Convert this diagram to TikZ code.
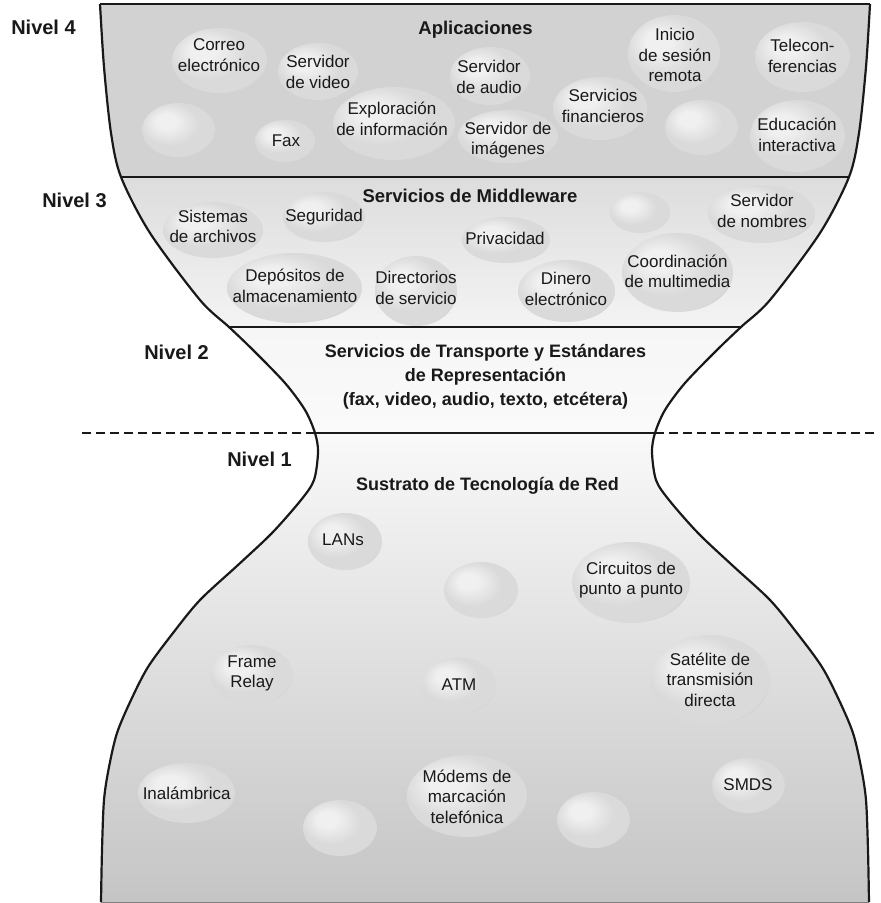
\documentclass[tikz,border=0pt]{standalone}
\usepackage{fontspec}
\setmainfont{Liberation Sans}
\usetikzlibrary{shapes.geometric}
\definecolor{bubhi}{gray}{0.94}
\definecolor{bubmid}{gray}{0.855}
\definecolor{bubdark}{gray}{0.72}
\definecolor{lvfour}{gray}{0.825}
\definecolor{lvthreetop}{gray}{0.865}
\definecolor{lvthreebot}{gray}{0.955}
\definecolor{lvtwotop}{gray}{0.965}
\definecolor{lvtwobot}{gray}{0.98}
\definecolor{lvonetop}{gray}{0.975}
\definecolor{lvonebot}{gray}{0.77}
\definecolor{edgecol}{gray}{0.1}
\pgfdeclareradialshading{bubbleshade}{\pgfpoint{-10bp}{9bp}}{color(0bp)=(bubhi); color(7bp)=(bubhi); color(20bp)=(bubmid); color(29bp)=(bubmid); color(34bp)=(bubdark); color(50bp)=(bubdark)}
\newcommand\hgbubble[5]{\node[bubble, minimum width=#4pt, minimum height=#5pt] (#1) at (#2,#3) {};}
\begin{document}
\begin{tikzpicture}[x=1pt,y=-1pt,
  bubble/.style={ellipse, shade, shading=bubbleshade, inner sep=0pt, outer sep=0pt, draw=none},
  btxt/.style={font=\fontsize{17}{20.5}\selectfont, align=center, inner sep=0pt, text=black!90},
  head/.style={font=\fontsize{18.5}{24}\selectfont\bfseries, inner sep=0pt, anchor=base, text=black!90},
  nivel/.style={font=\fontsize{20}{24}\selectfont\bfseries, inner sep=0pt, anchor=base, text=black!90},
  sepline/.style={line width=2.4pt, draw=edgecol},
  edgeline/.style={line width=2.2pt, draw=edgecol, line join=round},
  dashline/.style={line width=2pt, draw=edgecol, dash pattern=on 9pt off 5pt}]
\useasboundingbox (0,0) rectangle (881,903);
% fills
\begin{scope}
\clip plot[smooth,tension=0.5] coordinates {(870,4) (866,67) (859,133) (849,177) (820,233) (770,300) (741,327) (717,350) (685,383) (665,410) (655,433) (652,452) (656,480) (669,500) (698,533) (732,565) (770,600) (797,633) (822,667) (839,700) (853,733) (861,767) (866,800) (868,850) (869,902)}
  -- plot[smooth,tension=0.5] coordinates {(101,902) (102,850) (104,800) (109,767) (117,733) (131,700) (148,667) (173,633) (200,600) (238,565) (272,533) (301,500) (314,480) (318,452) (315,433) (305,410) (285,383) (253,350) (229,327) (200,300) (150,233) (121,177) (111,133) (104,67) (100,4)} -- cycle;
\fill[lvfour] (0,0) rectangle (881,177);
\shade[top color=lvthreetop, bottom color=lvthreebot] (0,177) rectangle (881,327);
\shade[top color=lvtwotop, bottom color=lvtwobot] (0,327) rectangle (881,433);
\shade[top color=lvonetop, bottom color=lvonebot] (0,433) rectangle (881,903);
\end{scope}
% bubbles level 4
\hgbubble{bcorreo}{219.5}{60.5}{95}{65}
\hgbubble{bsvideo}{318}{71.5}{80}{57}
\hgbubble{bsaudio}{490}{76}{80}{58}
\hgbubble{binicio}{674}{53.5}{92}{77}
\hgbubble{btelecon}{802.5}{57}{95}{70}
\hgbubble{bvacioa}{178.5}{130}{73}{54}
\hgbubble{bfax}{285}{141}{60}{42}
\hgbubble{bexplor}{394}{123.5}{122}{73}
\hgbubble{bimag}{508}{136.5}{100}{53}
\hgbubble{bfinanc}{600}{108.5}{94}{63}
\hgbubble{bvaciob}{701.5}{127.5}{73}{55}
\hgbubble{beduc}{797.5}{136}{95}{72}
% bubbles level 3
\hgbubble{bsistemas}{213}{230}{100}{56}
\hgbubble{bseguridad}{324}{217}{82}{50}
\hgbubble{bvacioc}{640}{212.5}{60}{41}
\hgbubble{bsnombres}{761.5}{214}{107}{58}
\hgbubble{bprivacidad}{506}{240}{88}{46}
\hgbubble{bdepositos}{294.5}{288}{135}{70}
\hgbubble{bdirectorios}{416}{291}{82}{70}
\hgbubble{bdinero}{566.5}{291}{97}{62}
\hgbubble{bcoord}{677.5}{272.5}{111}{79}
% bubbles level 1
\hgbubble{blans}{345}{541.5}{74}{57}
\hgbubble{bvaciod}{481}{590}{74}{56}
\hgbubble{bcircuitos}{631}{582.5}{118}{81}
\hgbubble{bframe}{251.5}{675}{83}{60}
\hgbubble{batm}{459}{685.5}{74}{56}
\hgbubble{bsatelite}{710}{680}{120}{90}
\hgbubble{binalam}{186.5}{793}{97}{60}
\hgbubble{bvacioe}{340}{828}{74}{56}
\hgbubble{bmodems}{467}{796}{120}{82}
\hgbubble{bvaciof}{593.5}{820}{73}{56}
\hgbubble{bsmds}{748.5}{785.5}{73}{55}
% separators
\draw[sepline] (100,4) -- (870,4);
\draw[sepline] (121,177) -- (849,177);
\draw[sepline] (229,327) -- (741,327);
\draw[sepline] (315,433) -- (655,433);
\draw[line width=1pt, draw=gray] (101,902) -- (869,902);
\draw[dashline] (82,433) -- (315,433);
\draw[dashline] (655,433) -- (877,433);
% edges
\draw[edgeline] plot[smooth,tension=0.5] coordinates {(870,4) (866,67) (859,133) (849,177) (820,233) (770,300) (741,327) (717,350) (685,383) (665,410) (655,433) (652,452) (656,480) (669,500) (698,533) (732,565) (770,600) (797,633) (822,667) (839,700) (853,733) (861,767) (866,800) (868,850) (869,902)};
\draw[edgeline] plot[smooth,tension=0.5] coordinates {(101,902) (102,850) (104,800) (109,767) (117,733) (131,700) (148,667) (173,633) (200,600) (238,565) (272,533) (301,500) (314,480) (318,452) (315,433) (305,410) (285,383) (253,350) (229,327) (200,300) (150,233) (121,177) (111,133) (104,67) (100,4)};
% level labels
\node[nivel] (nivelcuatro) at (43.5,34) {Nivel 4};
\node[nivel] (niveltres) at (74.5,207) {Nivel 3};
\node[nivel] (niveldos) at (176.5,359) {Nivel 2};
\node[nivel] (niveluno) at (259.5,466) {Nivel 1};
% headings
\node[head] (aplic) at (475.5,34) {Aplicaciones};
\node[head] (middle) at (470,202) {Servicios de Middleware};
\node[font=\fontsize{18}{24}\selectfont\bfseries, align=center, inner sep=0pt, text=black!90] (transp) at (485.5,377) {Servicios de Transporte y Estándares\\de Representación\\(fax, video, audio, texto, etcétera)};
\node[head, font=\fontsize{18}{24}\selectfont\bfseries] (sustrato) at (487.5,490) {Sustrato de Tecnología de Red};
% bubble texts level 4
\node[btxt] (tcorreo) at (219,55) {Correo\\electrónico};
\node[btxt] (tsvideo) at (318,72) {Servidor\\de video};
\node[btxt] (tsaudio) at (489,77) {Servidor\\de audio};
\node[btxt] (tinicio) at (675,55) {Inicio\\de sesión\\remota};
\node[btxt] (ttelecon) at (802.5,56) {Telecon-\\ferencias};
\node[btxt] (tfax) at (286,141) {Fax};
\node[btxt] (texplor) at (392,119) {Exploración\\de información};
\node[btxt] (timag) at (508,140) {Servidor de\\imágenes};
\node[btxt] (tfinanc) at (603,106) {Servicios\\financieros};
\node[btxt] (teduc) at (797,135) {Educación\\interactiva};
% level 3
\node[btxt] (tsistemas) at (213,226.5) {Sistemas\\de archivos};
\node[btxt] (tseguridad) at (324,217) {Seguridad};
\node[btxt] (tsnombres) at (762,211) {Servidor\\de nombres};
\node[btxt] (tprivacidad) at (505,238.5) {Privacidad};
\node[btxt] (tdepositos) at (295,286) {Depósitos de\\almacenamiento};
\node[btxt] (tdirectorios) at (416,288) {Directorios\\de servicio};
\node[btxt] (tdinero) at (566,289) {Dinero\\electrónico};
\node[btxt] (tcoord) at (677.5,271.5) {Coordinación\\de multimedia};
% level 1
\node[btxt] (tlans) at (343,540) {LANs};
\node[btxt] (tcircuitos) at (631,580) {Circuitos de\\punto a punto};
\node[btxt] (tframe) at (252,673.5) {Frame\\Relay};
\node[btxt] (tatm) at (459,684.5) {ATM};
\node[btxt] (tsatelite) at (710,679.5) {Satélite de\\transmisión\\directa};
\node[btxt] (tinalam) at (186.7,793) {Inalámbrica};
\node[btxt] (tmodems) at (467,796.5) {Módems de\\marcación\\telefónica};
\node[btxt] (tsmds) at (748,784.5) {SMDS};
\end{tikzpicture}
\end{document}
